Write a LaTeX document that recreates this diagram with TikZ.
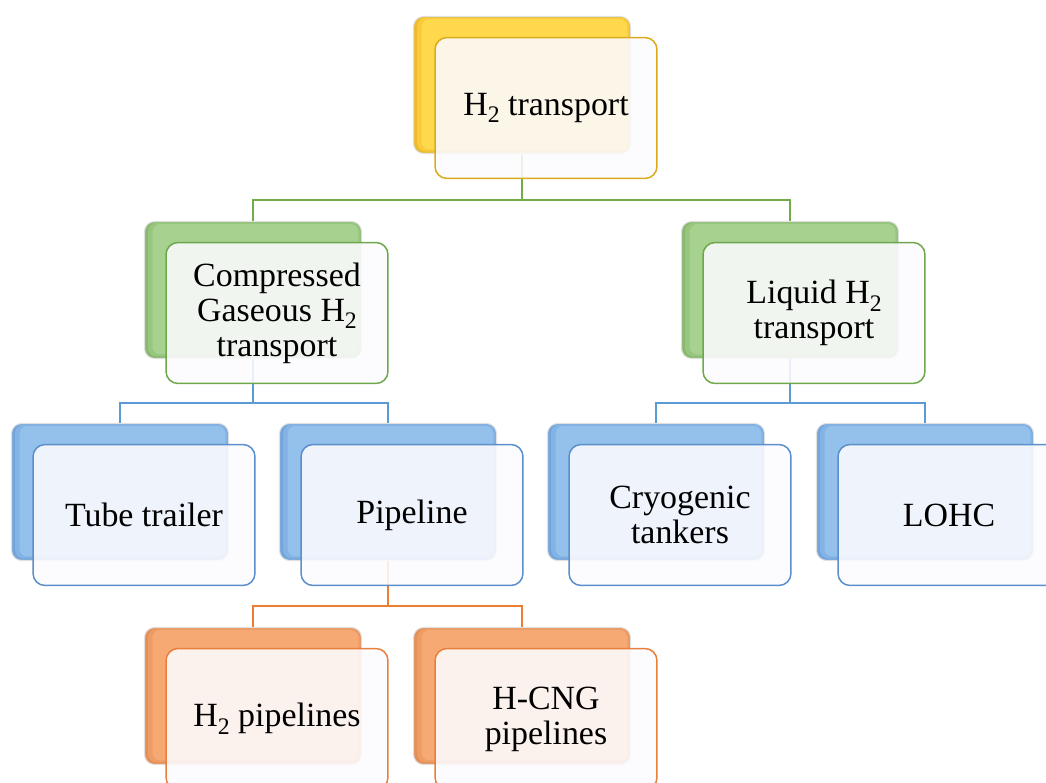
\documentclass[tikz,border=0pt]{standalone}
\usepackage{fontspec}
\setmainfont{Liberation Serif}
% subscript set a little lower and larger than \textsubscript
\newcommand{\chemsub}[1]{\raisebox{-0.5ex}{\fontsize{13.5}{13.5}\selectfont #1}}
% palette
\definecolor{yDark}{HTML}{EDBB2A}
\definecolor{yMid}{HTML}{F8CB3C}
\definecolor{yMain}{HTML}{FFD84C}
\definecolor{yEdge}{HTML}{DCAA1E}
\definecolor{gDark}{HTML}{88B96E}
\definecolor{gMid}{HTML}{98C67F}
\definecolor{gMain}{HTML}{A7D18F}
\definecolor{gEdge}{HTML}{6EA84C}
\definecolor{gLine}{HTML}{70AD47}
\definecolor{bDark}{HTML}{72A5DB}
\definecolor{bMid}{HTML}{83B3E4}
\definecolor{bMain}{HTML}{93C1EC}
\definecolor{bEdge}{HTML}{5A8FCB}
\definecolor{bLine}{HTML}{5B9BD5}
\definecolor{oDark}{HTML}{E58F57}
\definecolor{oMid}{HTML}{EE9C65}
\definecolor{oMain}{HTML}{F6A973}
\definecolor{oEdge}{HTML}{E8803C}
\definecolor{oLine}{HTML}{ED7D31}
\definecolor{frontFill}{HTML}{FCFBFE}
\begin{document}
\begin{tikzpicture}[x=0.02cm, y=-0.02cm,
  backbox/.style n args={3}{rounded corners=0.2cm, minimum width=4.34cm,
    minimum height=2.74cm, inner sep=0pt, draw=black!12, line width=0.6pt,
    fill=#1,
    path picture={
      \fill[#2, rounded corners=0.18cm]
        ([xshift=0.07cm,yshift=0.04cm]path picture bounding box.south west)
        rectangle ([xshift=-0.03cm,yshift=-0.02cm]path picture bounding box.north east);
      \fill[#3, rounded corners=0.16cm]
        ([xshift=0.16cm,yshift=0.08cm]path picture bounding box.south west)
        rectangle ([xshift=-0.06cm,yshift=-0.05cm]path picture bounding box.north east);}},
  frontbox/.style={rounded corners=0.24cm, minimum width=4.44cm,
    minimum height=2.82cm, inner sep=2pt, draw=#1, line width=0.85pt,
    fill=frontFill, fill opacity=0.88, text opacity=1, align=center,
    font=\fontsize{19.3}{20}\selectfont},
  link/.style={draw=#1, line width=0.85pt}
]
\useasboundingbox (0,0) rectangle (1046,782);
\clip (0,0) rectangle (1046,782);

% back plates
\node[backbox={yDark}{yMid}{yMain}] (topb) at (522,85) {};
\node[backbox={gDark}{gMid}{gMain}] (cgb) at (253,290) {};
\node[backbox={gDark}{gMid}{gMain}] (lqb) at (790,290) {};
\node[backbox={bDark}{bMid}{bMain}] (tubeb) at (120,492) {};
\node[backbox={bDark}{bMid}{bMain}] (pipeb) at (388,492) {};
\node[backbox={bDark}{bMid}{bMain}] (cryob) at (656,492) {};
\node[backbox={bDark}{bMid}{bMain}] (lohcb) at (925,492) {};
\node[backbox={oDark}{oMid}{oMain}] (h2pb) at (253,696) {};
\node[backbox={oDark}{oMid}{oMain}] (hcngb) at (522,696) {};

% junction levels
\coordinate (j1) at (0,200);
\coordinate (j2) at (0,403);
\coordinate (j3) at (0,606);

% connectors
\draw[link=gLine] (topb.south) -- (topb.south |- j1) -| (cgb.north);
\draw[link=gLine] (topb.south |- j1) -| (lqb.north);
\draw[link=bLine] (cgb.south) -- (cgb.south |- j2) -| (tubeb.north);
\draw[link=bLine] (cgb.south |- j2) -| (pipeb.north);
\draw[link=bLine] (lqb.south) -- (lqb.south |- j2) -| (cryob.north);
\draw[link=bLine] (lqb.south |- j2) -| (lohcb.north);
\draw[link=oLine] (pipeb.south) -- (pipeb.south |- j3) -| (h2pb.north);
\draw[link=oLine] (pipeb.south |- j3) -| (hcngb.north);

% front cards
\node[frontbox=yEdge] (top) at (546,108) {H\chemsub{2} transport};
\node[frontbox=gEdge] (cg) at (277,313) {Compressed\\Gaseous H\chemsub{2}\\transport};
\node[frontbox=gEdge] (lq) at (814,313) {Liquid H\chemsub{2}\\transport};
\node[frontbox=bEdge] (tube) at (144,515) {Tube trailer};
\node[frontbox=bEdge] (pipe) at (412,515) {Pipeline};
\node[frontbox=bEdge] (cryo) at (680,515) {Cryogenic\\tankers};
\node[frontbox=bEdge] (lohc) at (949,515) {LOHC};
\node[frontbox=oEdge] (h2p) at (277,719) {H\chemsub{2} pipelines};
\node[frontbox=oEdge] (hcng) at (546,719) {H-CNG\\pipelines};
\end{tikzpicture}
\end{document}
